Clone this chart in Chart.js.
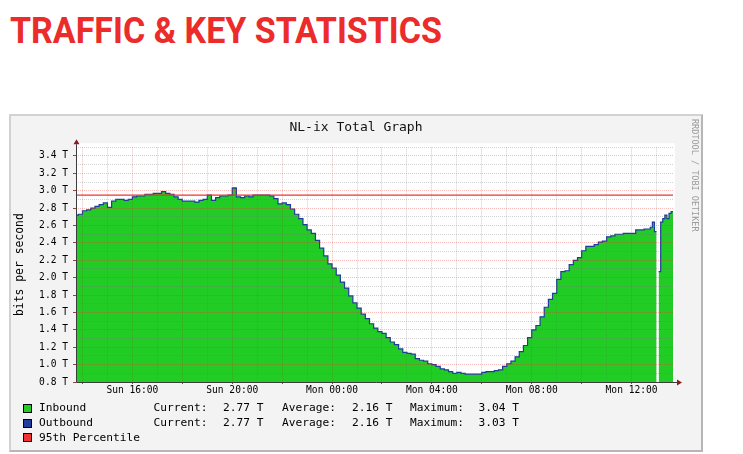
<!DOCTYPE html>
<html>
<head>
<meta charset="utf-8">
<script src="https://cdn.jsdelivr.net/npm/chart.js@4.4.0/dist/chart.umd.min.js"></script>
<style>
html,body{margin:0;padding:0;background:#fff;}
body{width:743px;height:454px;position:relative;overflow:hidden;font-family:"DejaVu Sans Mono",monospace;}
#head{position:absolute;left:10px;top:13px;font:bold 36px Roboto,sans-serif;line-height:36px;color:#ec2b2b;white-space:nowrap;transform-origin:0 0;}
#box{position:absolute;left:9px;top:114px;width:694px;height:338px;box-sizing:border-box;background:#f3f3f3;
  border-top:2px solid #d2d2d2;border-left:2px solid #d2d2d2;border-right:2px solid #b6b6b6;border-bottom:2px solid #b6b6b6;}
#chart{position:absolute;left:10px;top:114px;}
#gtitle{position:absolute;left:0;width:712px;top:119px;text-align:center;font-size:13px;line-height:16px;color:#111;}
#credit{position:absolute;left:690px;top:119px;writing-mode:vertical-rl;font-size:8.5px;line-height:10px;color:#9a9a9a;}
.lg{position:absolute;font-size:11.2px;line-height:14px;color:#000;white-space:pre;}
.sw{position:absolute;width:7px;height:7px;border:1px solid #000;}
</style>
</head>
<body>
<div id="head">TRAFFIC &amp; KEY STATISTICS</div>
<div id="box"></div>
<canvas id="chart" width="690" height="336"></canvas>
<div id="gtitle">NL-ix Total Graph</div>
<div id="credit">RRDTOOL / TOBI OETIKER</div>
<div id="legend"></div>

<script>
// 10-minute samples, Sun 13:40 .. Mon 12:30 (values in Tbit/s)
const inboundMain = [
  2.72,2.73,2.77,2.78,2.80,2.82,2.84,2.86,2.81,2.88,2.90,2.90,
  2.89,2.90,2.93,2.94,2.94,2.96,2.96,2.97,2.97,2.99,2.97,2.96,
  2.93,2.90,2.88,2.88,2.88,2.87,2.89,2.90,2.95,2.89,2.92,2.94,
  2.94,2.95,3.04,2.93,2.92,2.94,2.93,2.95,2.95,2.95,2.95,2.94,
  2.91,2.85,2.86,2.84,2.79,2.73,2.68,2.61,2.55,2.51,2.43,2.34,
  2.25,2.16,2.11,2.03,1.95,1.88,1.79,1.71,1.65,1.58,1.53,1.47,
  1.42,1.38,1.36,1.31,1.26,1.23,1.18,1.14,1.13,1.12,1.07,1.05,
  1.04,1.01,1.00,0.98,0.95,0.94,0.92,0.90,0.91,0.90,0.89,0.89,
  0.89,0.89,0.91,0.92,0.92,0.93,0.94,0.98,1.01,1.04,1.09,1.15,
  1.22,1.31,1.40,1.45,1.55,1.66,1.75,1.82,1.98,2.07,2.08,2.15,
  2.20,2.23,2.31,2.36,2.36,2.38,2.41,2.42,2.47,2.48,2.50,2.50,
  2.51,2.51,2.51,2.55,2.55,2.56
];
const outboundMain = [
  2.72,2.73,2.77,2.78,2.80,2.82,2.84,2.86,2.81,2.88,2.90,2.90,
  2.89,2.90,2.93,2.94,2.94,2.96,2.96,2.97,2.97,2.99,2.97,2.96,
  2.93,2.90,2.88,2.88,2.88,2.87,2.89,2.90,2.95,2.89,2.92,2.94,
  2.94,2.95,3.03,2.93,2.92,2.94,2.93,2.95,2.95,2.95,2.95,2.94,
  2.91,2.85,2.86,2.84,2.79,2.73,2.68,2.61,2.55,2.51,2.43,2.34,
  2.25,2.16,2.11,2.03,1.95,1.88,1.79,1.71,1.65,1.58,1.53,1.47,
  1.42,1.38,1.36,1.31,1.26,1.23,1.18,1.14,1.13,1.12,1.07,1.05,
  1.04,1.01,1.00,0.98,0.95,0.94,0.92,0.90,0.91,0.90,0.89,0.89,
  0.89,0.89,0.91,0.92,0.92,0.93,0.94,0.98,1.01,1.04,1.09,1.15,
  1.22,1.31,1.40,1.45,1.55,1.66,1.75,1.82,1.98,2.07,2.08,2.15,
  2.20,2.23,2.31,2.36,2.36,2.38,2.41,2.42,2.47,2.48,2.50,2.50,
  2.51,2.51,2.51,2.55,2.55,2.56
];
// 5-minute samples, Mon 12:40 .. 13:35 (null = missing sample)
const inboundTail  = [2.56,2.58,2.64,2.53,null,2.07,2.64,2.68,2.72,2.68,2.74,2.76];
const outboundTail = [2.56,2.58,2.64,2.53,null,2.07,2.64,2.68,2.72,2.68,2.74,2.76];
const percentile95 = 2.95;

const xLabelHours = [16, 20, 24, 28, 32, 36];   // hours since Sun 00:00
const xLabelText  = ['Sun 16:00','Sun 20:00','Mon 00:00','Mon 04:00','Mon 08:00','Mon 12:00'];

const legendNames   = ['Inbound','Outbound','95th Percentile'];
const legendCurrent = ['2.77 T','2.77 T',null];
const legendAverage = ['2.16 T','2.16 T',null];
const legendMaximum = ['3.04 T','3.03 T',null];

const mainStart = 13 + 40/60, mainStep = 10/60;
const tailStart = 36 + 40/60, tailStep = 5/60;
const xMin = 13.74, xMax = 37.66;

const GREEN = '#21cc25', BLUE = '#1f3c9c', RED = '#f03232';
const gridRed = 'rgba(240,30,30,0.30)', gridGray = 'rgba(110,110,110,0.30)';

// stepped points; a missing sample leaves a hole exactly one sample wide
function toPoints(main, tail) {
  const raw = [];
  main.forEach((v,i) => raw.push({x: mainStart + i*mainStep, y: v, w: mainStep}));
  tail.forEach((v,i) => raw.push({x: tailStart + i*tailStep, y: v, w: tailStep}));
  const pts = [];
  raw.forEach((p,i) => {
    if (p.y === null) {
      const prev = raw[i-1];
      if (prev && prev.y !== null) pts.push({x: p.x, y: prev.y});
      pts.push({x: p.x + p.w/2, y: null});
    } else pts.push({x: p.x, y: p.y});
  });
  const last = raw[raw.length-1];
  pts.push({x: last.x + last.w, y: last.y});
  return pts;
}

const xGrid = [], yGrid = [];
for (let h = 14; h <= 37; h++) xGrid.push(h);
for (let k = 8; k <= 35; k++) yGrid.push(k/10);
const isMajorY = v => Math.round(v*10) % 2 === 0;

const rrdAxes = {
  id: 'rrdAxes',
  beforeDraw(chart) {
    const {ctx, chartArea: a} = chart;
    ctx.save();
    ctx.fillStyle = '#fff';
    ctx.fillRect(a.left, a.top - 4, a.right - a.left + 2, a.bottom - a.top + 4);
    ctx.restore();
  },
  afterDraw(chart) {
    const {ctx, chartArea: a} = chart;
    const bx = Math.round(a.left) + 0.5, by = Math.round(a.bottom) + 0.5;
    ctx.save();
    ctx.strokeStyle = '#3c3c3c'; ctx.lineWidth = 1;
    ctx.beginPath();
    ctx.moveTo(bx, by); ctx.lineTo(bx, a.top - 3);
    ctx.moveTo(bx, by); ctx.lineTo(a.right + 4, by);
    ctx.stroke();
    ctx.fillStyle = '#8a1c1c';
    ctx.beginPath();
    ctx.moveTo(bx, a.top - 8); ctx.lineTo(bx - 3, a.top - 3); ctx.lineTo(bx + 3, a.top - 3); ctx.closePath();
    ctx.moveTo(a.right + 9, by); ctx.lineTo(a.right + 4, by - 3); ctx.lineTo(a.right + 4, by + 3); ctx.closePath();
    ctx.fill();
    ctx.restore();
  }
};

const monoFont = 'DejaVu Sans Mono';
new Chart(document.getElementById('chart'), {
  type: 'line',
  data: {
    datasets: [
      {label:'95th Percentile', data:[{x:xMin, y:percentile95},{x:xMax, y:percentile95}],
       borderColor:RED, borderWidth:1.2, pointRadius:0, fill:false, order:0},
      {label:'Outbound', data:toPoints(outboundMain, outboundTail), stepped:true,
       borderColor:BLUE, borderWidth:1.2, pointRadius:0, fill:false, order:1},
      {label:'Inbound', data:toPoints(inboundMain, inboundTail), stepped:true,
       borderColor:GREEN, borderWidth:0, backgroundColor:GREEN, pointRadius:0, fill:'start', order:2}
    ]
  },
  options: {
    responsive:false, animation:false, devicePixelRatio:1,
    layout:{padding:{top:33.3, right:27, bottom:0, left:0}},
    plugins:{legend:{display:false}, tooltip:{enabled:false}},
    scales:{
      x:{
        type:'linear', min:xMin, max:xMax,
        afterBuildTicks: s => { s.ticks = xGrid.map(v => ({value:v})); },
        afterFit: s => { s.height = 68; s.paddingLeft = 0; s.paddingRight = 0; },
        grid:{z:1, lineWidth:1, tickLength:2, borderDash:[1,1],
          color: c => c.tick && c.tick.value % 2 === 0 ? gridRed : gridGray,
          tickColor: c => c.tick && c.tick.value % 2 === 0 ? '#9a4040' : 'rgba(0,0,0,0)'},
        border:{display:false, dash:[1,1]},
        ticks:{padding:1, autoSkip:false, maxRotation:0, color:'#000', font:{size:9.6, family:monoFont},
          callback: v => { const i = xLabelHours.indexOf(v); return i >= 0 ? xLabelText[i] : ''; }}
      },
      y:{
        type:'linear', min:0.8, max:3.5,
        afterBuildTicks: s => { s.ticks = yGrid.map(v => ({value:v})); },
        afterFit: s => { s.width = 66; s.paddingTop = 0; s.paddingBottom = 0; },
        grid:{z:1, lineWidth:1, tickLength:3, borderDash:[1,1],
          color: c => c.tick && isMajorY(c.tick.value) ? gridRed : gridGray,
          tickColor: c => c.tick && isMajorY(c.tick.value) ? '#9a4040' : 'rgba(0,0,0,0)'},
        border:{display:false, dash:[1,1]},
        ticks:{padding:5, autoSkip:false, color:'#000', font:{size:9.6, family:monoFont},
          callback: v => isMajorY(v) && v < 3.45 ? v.toFixed(1) + ' T' : ''},
        title:{display:true, text:'bits per second', color:'#000', font:{size:11.4, family:monoFont}, padding:{top:3, bottom:0}}
      }
    }
  },
  plugins:[rrdAxes]
});

// legend block under the graph
const legend = document.getElementById('legend');
const swatchColors = [GREEN, BLUE, RED];
legendNames.forEach((name, i) => {
  const cy = 408.3 + i*14.7;
  const add = (cls, left, text) => {
    const el = document.createElement('div');
    el.className = cls; el.style.left = left + 'px'; el.style.top = (cy - 7) + 'px';
    if (text !== undefined) el.textContent = text;
    legend.appendChild(el);
    return el;
  };
  const sw = add('sw', 23);
  sw.style.top = (cy - 4.5) + 'px'; sw.style.background = swatchColors[i];
  add('lg', 39, name);
  if (legendCurrent[i]) {
    add('lg', 153.5, 'Current:'); add('lg', 223, legendCurrent[i]);
    add('lg', 282, 'Average:');   add('lg', 352, legendAverage[i]);
    add('lg', 410, 'Maximum:');   add('lg', 478.5, legendMaximum[i]);
  }
});

// squeeze the heading to the condensed width of the original
const head = document.getElementById('head');
head.style.transform = 'scaleX(' + (432 / head.getBoundingClientRect().width) + ')';
</script>
</body>
</html>
